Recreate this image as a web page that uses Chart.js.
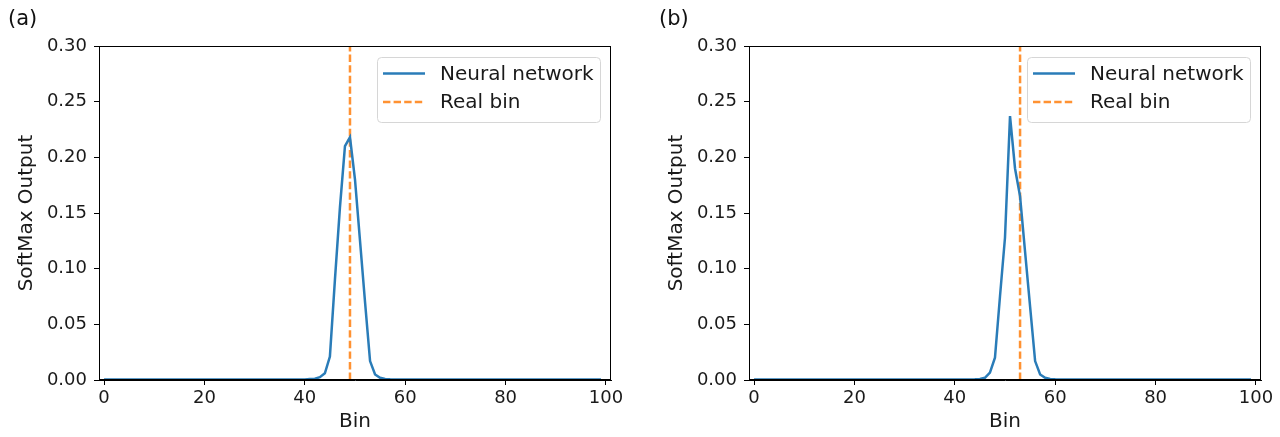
<!DOCTYPE html>
<html>
<head>
<meta charset="utf-8">
<script src="https://cdn.jsdelivr.net/npm/chart.js@4.4.1/dist/chart.umd.min.js"></script>
<style>
  body { margin: 0; background: #fff; }
  #wrap { position: relative; width: 1280px; height: 437px; font-family: "DejaVu Sans", sans-serif; }
  .panel { position: absolute; top: 0; }
  .tag { position: absolute; top: 6px; font-size: 21px; color: #111; }
</style>
</head>
<body>
<div id="wrap">
  <canvas id="chartA" class="panel" width="640" height="437" style="left:0"></canvas>
  <canvas id="chartB" class="panel" width="630" height="437" style="left:650px"></canvas>
  <div class="tag" style="left:8px">(a)</div>
  <div class="tag" style="left:659px">(b)</div>
</div>
<script>
// softmax output of the network per bin, panel (a)
const outputA = [
  0.0004, 0.0004, 0.0004, 0.0004, 0.0004, 0.0004, 0.0004, 0.0004, 0.0004, 0.0004,
  0.0004, 0.0004, 0.0004, 0.0004, 0.0004, 0.0004, 0.0004, 0.0004, 0.0004, 0.0004,
  0.0004, 0.0004, 0.0004, 0.0004, 0.0004, 0.0004, 0.0004, 0.0004, 0.0004, 0.0004,
  0.0004, 0.0004, 0.0004, 0.0004, 0.0004, 0.0004, 0.0004, 0.0004, 0.0004, 0.0004,
  0.0005, 0.0008, 0.0012, 0.0025, 0.006, 0.021, 0.09, 0.155, 0.21, 0.218,
  0.18, 0.125, 0.07, 0.017, 0.005, 0.002, 0.001, 0.0007, 0.0005, 0.0004,
  0.0004, 0.0004, 0.0004, 0.0004, 0.0004, 0.0004, 0.0004, 0.0004, 0.0004, 0.0004,
  0.0004, 0.0004, 0.0004, 0.0004, 0.0004, 0.0004, 0.0004, 0.0004, 0.0004, 0.0004,
  0.0004, 0.0004, 0.0004, 0.0004, 0.0004, 0.0004, 0.0004, 0.0004, 0.0004, 0.0004,
  0.0004, 0.0004, 0.0004, 0.0004, 0.0004, 0.0004, 0.0004, 0.0004, 0.0004, 0.0004
];

// panel (b)
const outputB = [
  0.0004, 0.0004, 0.0004, 0.0004, 0.0004, 0.0004, 0.0004, 0.0004, 0.0004, 0.0004,
  0.0004, 0.0004, 0.0004, 0.0004, 0.0004, 0.0004, 0.0004, 0.0004, 0.0004, 0.0004,
  0.0004, 0.0004, 0.0004, 0.0004, 0.0004, 0.0004, 0.0004, 0.0004, 0.0004, 0.0004,
  0.0004, 0.0004, 0.0004, 0.0004, 0.0004, 0.0004, 0.0004, 0.0004, 0.0004, 0.0004,
  0.0004, 0.0004, 0.0004, 0.0005, 0.0007, 0.001, 0.002, 0.0066, 0.02, 0.075,
  0.128, 0.237, 0.19, 0.165, 0.115, 0.066, 0.017, 0.005, 0.002, 0.001,
  0.0007, 0.0005, 0.0004, 0.0004, 0.0004, 0.0004, 0.0004, 0.0004, 0.0004, 0.0004,
  0.0004, 0.0004, 0.0004, 0.0004, 0.0004, 0.0004, 0.0004, 0.0004, 0.0004, 0.0004,
  0.0004, 0.0004, 0.0004, 0.0004, 0.0004, 0.0004, 0.0004, 0.0004, 0.0004, 0.0004,
  0.0004, 0.0004, 0.0004, 0.0004, 0.0004, 0.0004, 0.0004, 0.0004, 0.0004, 0.0004
];

const realBinA = 49;
const realBinB = 53;

const xTicks = [0, 20, 40, 60, 80, 100];
const yTicks = [0, 0.05, 0.10, 0.15, 0.20, 0.25, 0.30];

const TICK_FONT = { family: "DejaVu Sans", size: 18 };
const LABEL_FONT = { family: "DejaVu Sans", size: 20 };
const TEXT = "#1a1a1a";

// full box round the axes plus the legend in the upper right
const frameAndLegend = {
  id: "frameAndLegend",
  afterDatasetsDraw(chart) {
    const { ctx, chartArea: a } = chart;
    ctx.save();
    ctx.strokeStyle = "#000";
    ctx.lineWidth = 1;
    ctx.strokeRect(Math.round(a.left) + 0.5, Math.round(a.top) + 0.5,
                   Math.round(a.right - a.left) - 1, Math.round(a.bottom - a.top) - 1);

    const w = 223, h = 65;
    const x = a.right - 11 - w, y = a.top + 11;
    ctx.beginPath();
    ctx.roundRect(x + 0.5, y + 0.5, w, h, 4);
    ctx.fillStyle = "rgba(255,255,255,0.8)";
    ctx.fill();
    ctx.strokeStyle = "#d6d6d6";
    ctx.stroke();

    ctx.font = '20px "DejaVu Sans"';
    ctx.textBaseline = "middle";
    chart.data.datasets.forEach((ds, i) => {
      const ly = y + 16.5 + i * 28.5;
      ctx.beginPath();
      ctx.setLineDash(ds.borderDash || []);
      ctx.strokeStyle = ds.borderColor;
      ctx.lineWidth = ds.borderWidth;
      ctx.moveTo(x + 6, ly);
      ctx.lineTo(x + 48, ly);
      ctx.stroke();
      ctx.setLineDash([]);
      ctx.fillStyle = TEXT;
      ctx.fillText(ds.label, x + 63, ly + 1);
    });
    ctx.restore();
  }
};

function makeChart(canvasId, values, realBin, rightPad) {
  const points = values.map((v, i) => ({ x: i, y: v }));
  const yMax = yTicks[yTicks.length - 1];

  return new Chart(document.getElementById(canvasId), {
    type: "line",
    data: {
      datasets: [
        {
          label: "Neural network",
          data: points,
          borderColor: "#2a7cb8",
          borderWidth: 2.5,
          pointRadius: 0,
          tension: 0
        },
        {
          label: "Real bin",
          data: [{ x: realBin, y: 0 }, { x: realBin, y: yMax }],
          borderColor: "rgba(255,127,14,0.85)",
          borderWidth: 2.5,
          borderDash: [7.4, 3.2],
          pointRadius: 0
        }
      ]
    },
    options: {
      responsive: false,
      animation: false,
      devicePixelRatio: 1,
      layout: { padding: { top: 46, right: rightPad, left: 0, bottom: 0 } },
      plugins: {
        legend: { display: false },
        tooltip: { enabled: false }
      },
      scales: {
        x: {
          type: "linear",
          min: -1,
          max: 101,
          afterBuildTicks: s => { s.ticks = xTicks.map(v => ({ value: v })); },
          afterFit: s => { s.height = 57; },
          ticks: { font: TICK_FONT, color: TEXT, padding: 3, maxRotation: 0 },
          grid: { drawOnChartArea: false, tickLength: 5, color: "#000" },
          border: { color: "#000" },
          title: { display: true, text: "Bin", font: LABEL_FONT, color: TEXT, padding: { top: 0, bottom: 3 } }
        },
        y: {
          min: 0,
          max: yMax,
          afterBuildTicks: s => { s.ticks = yTicks.map(v => ({ value: v })); },
          afterFit: s => { s.width = 99; },
          ticks: { font: TICK_FONT, color: TEXT, padding: 7, callback: v => v.toFixed(2) },
          grid: { drawOnChartArea: false, tickLength: 5, color: "#000" },
          border: { color: "#000" },
          title: { display: true, text: "SoftMax Output", font: LABEL_FONT, color: TEXT, padding: { top: 15, bottom: 0 } }
        }
      }
    },
    plugins: [frameAndLegend]
  });
}

makeChart("chartA", outputA, realBinA, 29);
makeChart("chartB", outputB, realBinB, 19);
</script>
</body>
</html>
